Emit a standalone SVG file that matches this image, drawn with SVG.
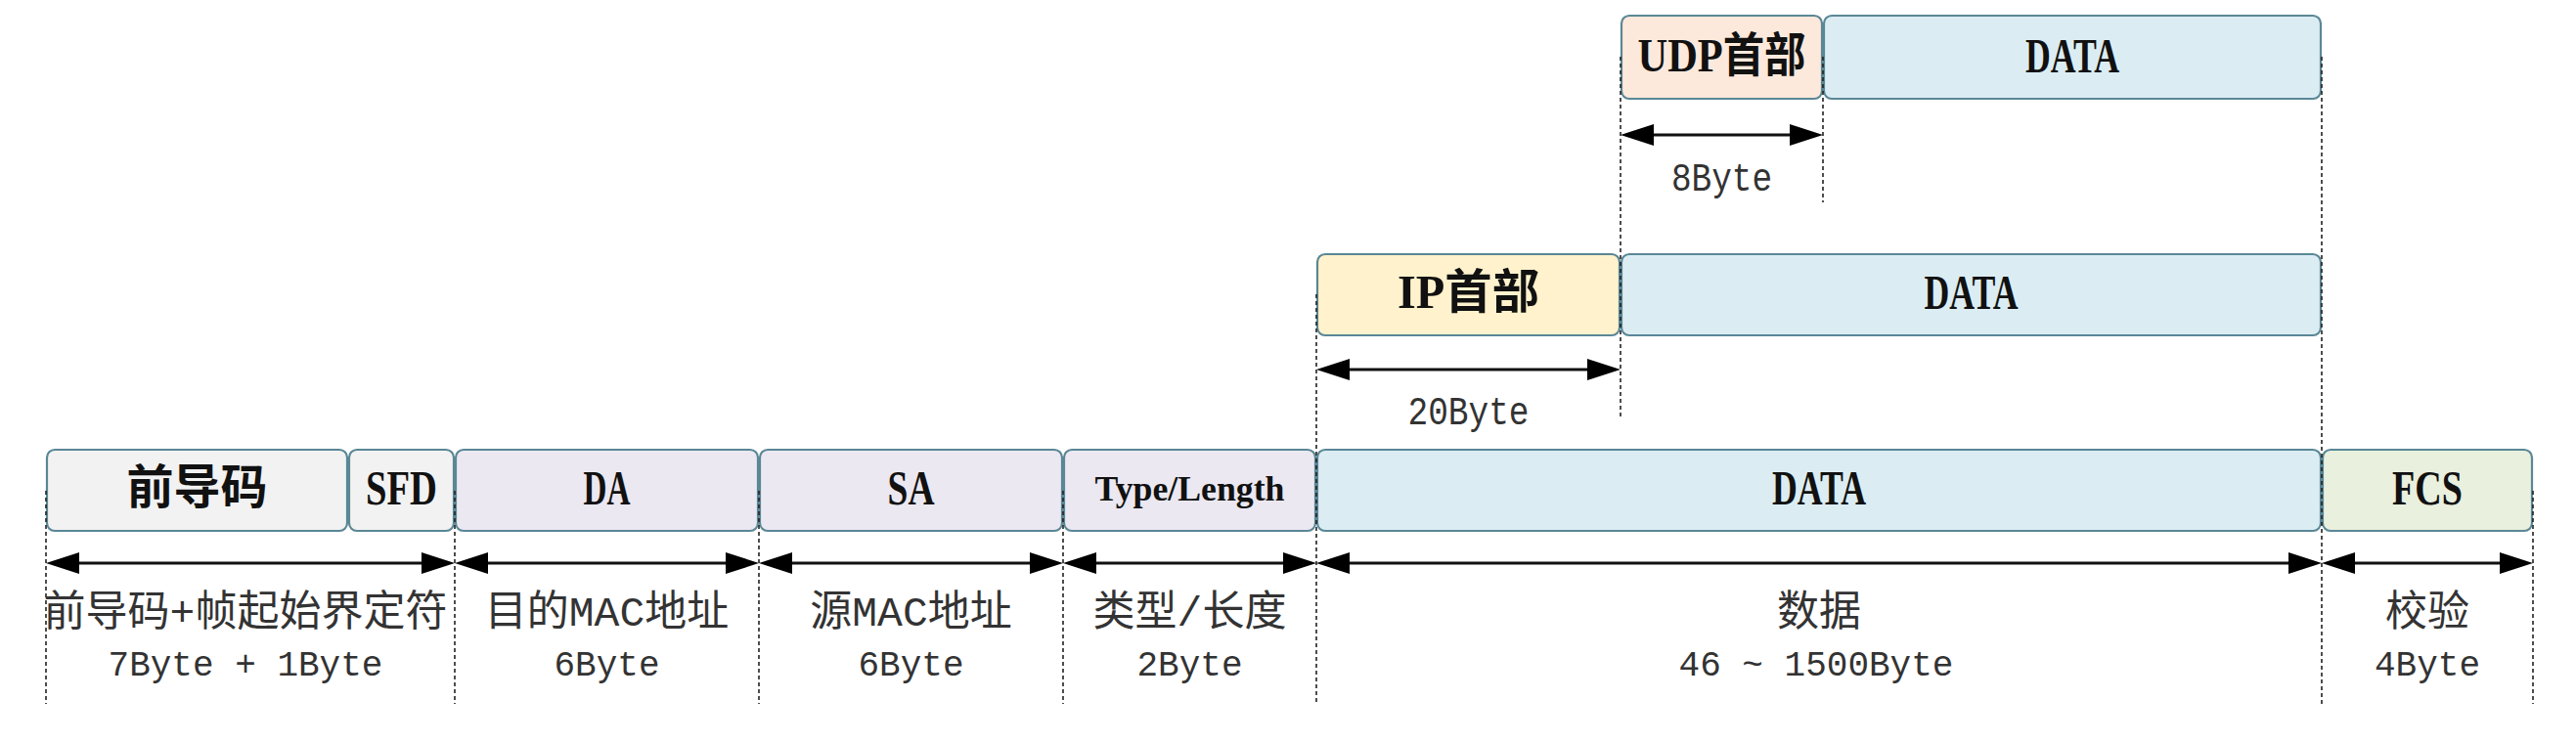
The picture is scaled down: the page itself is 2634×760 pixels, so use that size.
<svg xmlns="http://www.w3.org/2000/svg" width="2634" height="760" viewBox="0 0 2634 760">
<style>
.box{stroke:#5a8796;stroke-width:2.2}
.gray{fill:#f2f2f2}
.lav{fill:#ebe8f1}
.blue{fill:#dbedf3}
.green{fill:#e9f0de}
.yellow{fill:#fff2cc}
.peach{fill:#fde9dc}
.title{font-family:"Liberation Serif","Noto Sans CJK SC",serif;font-weight:bold;font-size:51px;fill:#111;text-anchor:middle}
.cjk{font-size:48px}
.small{font-size:35px}
.lab{font-family:"Liberation Mono","Noto Sans CJK SC",monospace;font-size:43px;fill:#333;text-anchor:middle}
.num{font-size:36px}
.big{font-size:40px}
.dash{stroke:#222;stroke-width:1.6;stroke-dasharray:4 3;fill:none}
.arr{stroke:#111;stroke-width:3;fill:none;marker-start:url(#ah);marker-end:url(#ah)}
</style>
<defs>
<marker id="ah" markerUnits="userSpaceOnUse" markerWidth="34" markerHeight="22" viewBox="0 0 34 22" refX="14" refY="11" orient="auto-start-reverse">
<path d="M0,0 L34,11 L0,22 z" fill="#000"/>
</marker>
</defs>
<rect width="2634" height="760" fill="#fff"/>

<g id="udp-header">
<rect class="box peach" x="1658" y="16" width="205" height="85" rx="8"/>
<text class="title cjk" x="1760.5" y="73" textLength="172" lengthAdjust="spacingAndGlyphs">UDP首部</text>
</g>
<g id="udp-data">
<rect class="box blue" x="1865" y="16" width="508" height="85" rx="8"/>
<text class="title" x="2119" y="74" textLength="96" lengthAdjust="spacingAndGlyphs">DATA</text>
</g>

<g id="ip-header">
<rect class="box yellow" x="1347" y="260" width="309" height="83" rx="8"/>
<text class="title cjk" x="1501.5" y="315" textLength="145" lengthAdjust="spacingAndGlyphs">IP首部</text>
</g>
<g id="ip-data">
<rect class="box blue" x="1658" y="260" width="715" height="83" rx="8"/>
<text class="title" x="2015.5" y="316" textLength="96" lengthAdjust="spacingAndGlyphs">DATA</text>
</g>

<g id="preamble">
<rect class="box gray" x="48" y="460" width="307" height="83" rx="8"/>
<text class="title cjk" x="201.5" y="515">前导码</text>
</g>
<g id="sfd">
<rect class="box gray" x="357" y="460" width="107" height="83" rx="8"/>
<text class="title" x="410.5" y="516" textLength="73" lengthAdjust="spacingAndGlyphs">SFD</text>
</g>
<g id="da">
<rect class="box lav" x="466" y="460" width="309" height="83" rx="8"/>
<text class="title" x="620.5" y="516" textLength="48" lengthAdjust="spacingAndGlyphs">DA</text>
</g>
<g id="sa">
<rect class="box lav" x="777" y="460" width="309" height="83" rx="8"/>
<text class="title" x="931.5" y="516" textLength="48" lengthAdjust="spacingAndGlyphs">SA</text>
</g>
<g id="type-length">
<rect class="box lav" x="1088" y="460" width="257" height="83" rx="8"/>
<text class="title small" x="1216.5" y="512" textLength="194" lengthAdjust="spacingAndGlyphs">Type/Length</text>
</g>
<g id="data">
<rect class="box blue" x="1347" y="460" width="1026" height="83" rx="8"/>
<text class="title" x="1860" y="516" textLength="96" lengthAdjust="spacingAndGlyphs">DATA</text>
</g>
<g id="fcs">
<rect class="box green" x="2375" y="460" width="214" height="83" rx="8"/>
<text class="title" x="2482" y="516" textLength="72" lengthAdjust="spacingAndGlyphs">FCS</text>
</g>

<g id="guides">
<line class="dash" x1="47" y1="502" x2="47" y2="720"/>
<line class="dash" x1="465" y1="502" x2="465" y2="720"/>
<line class="dash" x1="776" y1="502" x2="776" y2="720"/>
<line class="dash" x1="1087" y1="502" x2="1087" y2="720"/>
<line class="dash" x1="1346" y1="301" x2="1346" y2="720"/>
<line class="dash" x1="1657" y1="58" x2="1657" y2="428"/>
<line class="dash" x1="1864" y1="58" x2="1864" y2="207"/>
<line class="dash" x1="2374" y1="58" x2="2374" y2="720"/>
<line class="dash" x1="2590" y1="502" x2="2590" y2="720"/>
</g>

<g id="connectors">
<line class="arr" x1="67" y1="576" x2="445" y2="576"/>
<line class="arr" x1="485" y1="576" x2="756" y2="576"/>
<line class="arr" x1="796" y1="576" x2="1067" y2="576"/>
<line class="arr" x1="1107" y1="576" x2="1326" y2="576"/>
<line class="arr" x1="1366" y1="576" x2="2354" y2="576"/>
<line class="arr" x1="2394" y1="576" x2="2570" y2="576"/>
<line class="arr" x1="1366" y1="378" x2="1637" y2="378"/>
<line class="arr" x1="1677" y1="138" x2="1844" y2="138"/>
</g>

<g id="labels">
<text class="lab" x="251" y="640">前导码+帧起始界定符</text>
<text class="lab num" x="251" y="691">7Byte + 1Byte</text>
<text class="lab" x="620.5" y="640">目的MAC地址</text>
<text class="lab num" x="620.5" y="691">6Byte</text>
<text class="lab" x="931.5" y="640">源MAC地址</text>
<text class="lab num" x="931.5" y="691">6Byte</text>
<text class="lab" x="1216.5" y="640">类型/长度</text>
<text class="lab num" x="1216.5" y="691">2Byte</text>
<text class="lab" x="1860" y="640">数据</text>
<text class="lab num" x="1857" y="691">46 ~ 1500Byte</text>
<text class="lab" x="2482" y="640">校验</text>
<text class="lab num" x="2482" y="691">4Byte</text>
<text class="lab big" x="1501.5" y="434" textLength="124" lengthAdjust="spacingAndGlyphs">20Byte</text>
<text class="lab big" x="1760.5" y="195" textLength="103" lengthAdjust="spacingAndGlyphs">8Byte</text>
</g>
</svg>
